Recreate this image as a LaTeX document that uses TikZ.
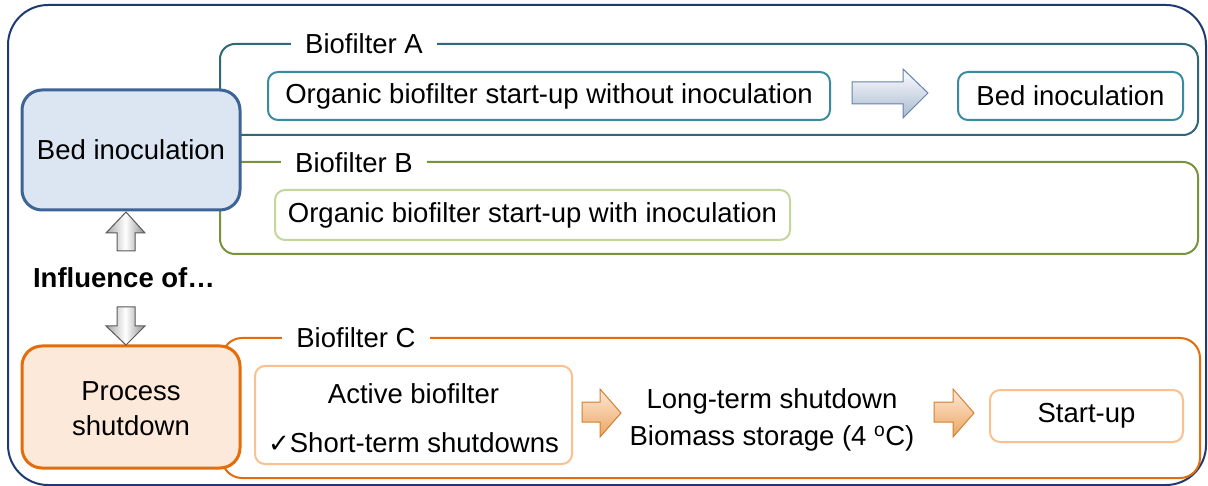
\documentclass[tikz,border=0pt]{standalone}
\usepackage{fontspec}
\setmainfont{Liberation Sans}
\newfontfamily\symfont{DejaVu Sans}
\definecolor{framenavy}{HTML}{1F3A73}
\definecolor{grpA}{HTML}{2F6878}
\definecolor{boxA}{HTML}{3A8AA0}
\definecolor{grpB}{HTML}{77933C}
\definecolor{boxB}{HTML}{C3D69B}
\definecolor{grpC}{HTML}{E46C0A}
\definecolor{boxC}{HTML}{FAC090}
\definecolor{leftblueF}{HTML}{DCE6F2}
\definecolor{leftblueD}{HTML}{3E6396}
\definecolor{leftorF}{HTML}{FDE9D9}
\tikzset{
  txt/.style={font=\fontsize{27.5}{33}\selectfont, inner sep=0pt},
  group/.style={draw=#1, line width=2pt, rounded corners=15pt},
  grplabel/.style={txt, fill=white, inner xsep=14pt, inner ysep=3pt},
  inbox/.style={txt, draw=#1, line width=2pt, rounded corners=10pt, fill=white},
  leftbox/.style={txt, line width=3pt, rounded corners=20pt, align=center},
  bluearrow/.style={draw=leftblueD!80, line width=1pt, top color=white, bottom color=leftblueD!45, line join=miter},
  greyarrow/.style={draw=black!65, line width=1pt, left color=black!35, right color=black!45, middle color=white},
  orarrow/.style={draw=brown!70!orange, line width=1pt, top color=boxC!35, bottom color=brown!45!orange!70},
}
\begin{document}
\begin{tikzpicture}[x=1pt,y=-1pt]
\useasboundingbox (0,0) rectangle (1208,486);
\node[draw=framenavy, line width=2pt, rounded corners=40pt, minimum width=1198pt, minimum height=480pt, inner sep=0pt] (frame) at (607,245) {};
% groups
\node[group=grpA, minimum width=978pt, minimum height=91pt, inner sep=0pt] (gA) at (709,89.5) {};
\node[group=grpB, minimum width=978pt, minimum height=92pt, inner sep=0pt] (gB) at (709,208) {};
\node[group=grpC, minimum width=978pt, minimum height=140pt, inner sep=0pt, rounded corners=20pt] (gC) at (711,408) {};
\node[grplabel] (lA) at (364,44) {Biofilter A};
\node[grplabel] (lB) at (354,163) {Biofilter B};
\node[grplabel] (lC) at (356,338) {Biofilter C};
% group A content
\node[inbox=boxA, minimum width=562pt, minimum height=48pt] (a1) at (549,96) {Organic biofilter start-up without inoculation};
\node[inbox=boxA, minimum width=225pt, minimum height=48pt] (a2) at (1070.5,96) {Bed inoculation};
\path[bluearrow] (852,82) -- (903,82) -- (903,69) -- (928,93) -- (903,118) -- (903,104) -- (852,104) -- cycle;
% group B content
\node[inbox=boxB, minimum width=515pt, minimum height=50pt] (b1) at (532.5,215) {Organic biofilter start-up with inoculation};
% group C content
\node[inbox=boxC, minimum width=317pt, minimum height=98pt] (c1) at (413.5,415) {};
\node[txt, align=center] (c1t) at (413.5,418) {Active biofilter\\[16pt]{\symfont\fontsize{26}{30}\selectfont ✓}Short-term shutdowns};
\node[txt, align=center] (c2) at (772,420) {Long-term shutdown\\[4pt]Biomass storage (4 \textsuperscript{o}C)};
\node[inbox=boxC, minimum width=193pt, minimum height=52pt] (c3) at (1086.5,416) {Start-up};
\path[orarrow] (582,402)--(600,402)--(600,389)--(621,413)--(600,437)--(600,422)--(582,422)--cycle;
\path[orarrow] (934,402)--(953,402)--(953,389)--(974,413)--(953,437)--(953,422)--(934,422)--cycle;
% left boxes
\node[leftbox, draw=leftblueD, fill=leftblueF, minimum width=218pt, minimum height=120pt] (bed) at (131,150) {Bed inoculation};
\node[leftbox, draw=grpC, fill=leftorF, minimum width=218pt, minimum height=122pt] (proc) at (131,407) {};
\node[txt, align=center] (proct) at (131,409) {Process\\[2pt]shutdown};
\node[txt, font=\fontsize{27.5}{33}\selectfont\bfseries] (infl) at (124,278) {Influence of…};
\path[greyarrow] (126,212) -- (145,233) -- (135,233) -- (135,251) -- (117,251) -- (117,233) -- (106,233) -- cycle;
\path[greyarrow] (117,307) -- (135,307) -- (135,326) -- (145,326) -- (126,345) -- (106,326) -- (117,326) -- cycle;
\end{tikzpicture}
\end{document}
